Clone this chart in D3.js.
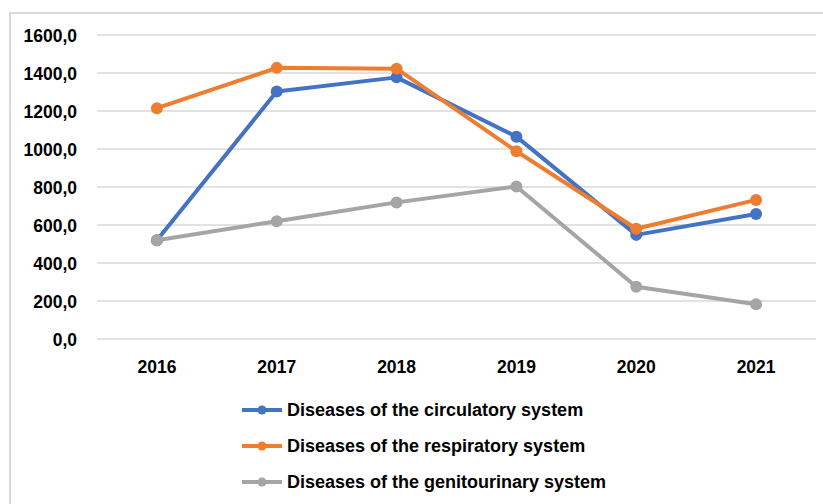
<!DOCTYPE html>
<html><head><meta charset="utf-8">
<script src="https://cdn.jsdelivr.net/npm/d3@7"></script>
<style>body{margin:0;background:#fff}svg{display:block}</style>
</head><body>
<svg id="c" width="823" height="504"></svg>
<script>
const years = ["2016","2017","2018","2019","2020","2021"];
const seriesNames = ["Diseases of the circulatory system","Diseases of the respiratory system","Diseases of the genitourinary system"];
const circulatory = [520, 1303, 1377, 1065, 548, 658];
const respiratory = [1215, 1427, 1423, 988, 580, 732];
const genitourinary = [520, 620, 719, 803, 275, 183];
const yTicks = [0,200,400,600,800,1000,1200,1400,1600];
const colors = ["#4472C4","#ED7D31","#A5A5A5"];

const svg = d3.select("#c");
const font = "'Liberation Sans', Arial, sans-serif";
// outer frame
svg.append("rect").attr("x",10).attr("y",13).attr("width",830).attr("height",520)
  .attr("fill","none").attr("stroke","#d9d9d9").attr("stroke-width",2);

const x = d3.scaleBand().domain(years).range([97,816]);
const y = d3.scaleLinear().domain([0,1600]).range([339,35]);

const fmt = v => d3.format(".1f")(v).replace(".",",");

// grid
svg.append("g").selectAll("line").data(yTicks).join("line")
  .attr("x1",97).attr("x2",816).attr("y1",d=>y(d)).attr("y2",d=>y(d))
  .attr("stroke","#d9d9d9").attr("stroke-width",1.5);

// y axis
const ya = svg.append("g").attr("transform","translate(77,0)")
  .call(d3.axisLeft(y).tickValues(yTicks).tickFormat(fmt).tickSize(0).tickPadding(0));
ya.select(".domain").remove();
ya.selectAll("text").attr("font-family",font).attr("font-weight","bold").attr("font-size",17.5)
  .attr("fill","#000").attr("x",0).attr("y",0).attr("dy","0.36em")
  .attr("transform","scale(1,1.1)");

// x axis
const xa = svg.append("g").attr("transform","translate(0,339)")
  .call(d3.axisBottom(x).tickSize(0).tickPadding(0));
xa.select(".domain").remove();
xa.selectAll("text").attr("font-family",font).attr("font-weight","bold").attr("font-size",17.5)
  .attr("fill","#000").attr("y",34).attr("dy",0)
  .attr("transform","translate(0,34) scale(1,1.1) translate(0,-34)");

const data = [circulatory, respiratory, genitourinary];
const line = d3.line().x((d,i)=>x(years[i])+x.bandwidth()/2).y(d=>y(d));
data.forEach((s,k)=>{
  const g = svg.append("g");
  g.append("path").datum(s).attr("d",line).attr("fill","none")
    .attr("stroke",colors[k]).attr("stroke-width",4).attr("stroke-linejoin","round");
  g.selectAll("circle").data(s).join("circle")
    .attr("cx",(d,i)=>x(years[i])+x.bandwidth()/2).attr("cy",d=>y(d)).attr("r",6)
    .attr("fill",colors[k]);
});

// legend
const lg = svg.append("g");
seriesNames.forEach((n,k)=>{
  const yy = 410 + k*36;
  lg.append("line").attr("x1",242).attr("x2",282).attr("y1",yy).attr("y2",yy)
    .attr("stroke",colors[k]).attr("stroke-width",4);
  lg.append("circle").attr("cx",262).attr("cy",yy).attr("r",4.5).attr("fill",colors[k]);
  lg.append("text").attr("x",287).attr("y",yy).attr("dy","0.36em")
    .attr("font-family",font).attr("font-weight","bold").attr("font-size",18).attr("fill","#000")
    .text(n);
});
</script>
</body></html>
